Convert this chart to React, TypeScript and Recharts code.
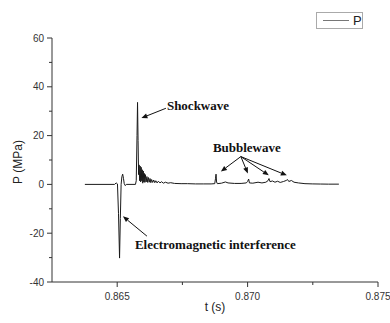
import React from 'react';
import { LineChart, Line, XAxis, YAxis, ReferenceLine, ReferenceDot } from 'recharts';

// time (s)
const tValues = [
  0.86376, 0.8649, 0.86496, 0.86501, 0.86505, 0.86509, 0.86512, 0.86515, 0.86518, 0.86521,
  0.86524, 0.86527, 0.86531, 0.86535, 0.8657, 0.86573, 0.86576, 0.86578, 0.8658, 0.86582,
  0.86584, 0.86586, 0.86588, 0.8659, 0.86592, 0.86594, 0.86596, 0.86598, 0.866, 0.86602,
  0.86604, 0.86606, 0.86608, 0.86611, 0.86614, 0.86617, 0.8662, 0.86623, 0.86626, 0.86629,
  0.86632, 0.86636, 0.8664, 0.86644, 0.86648, 0.86653, 0.86658, 0.86664, 0.8667, 0.86677,
  0.86685, 0.86695, 0.86705, 0.8672, 0.86745, 0.8677, 0.868, 0.8683, 0.8686, 0.86874,
  0.86877, 0.86879, 0.86881, 0.86884, 0.869, 0.86915, 0.86925, 0.8695, 0.86975, 0.86995,
  0.87, 0.87004, 0.87007, 0.8702, 0.8704, 0.87055, 0.8707, 0.87078, 0.87082, 0.87086,
  0.87095, 0.87105, 0.87115, 0.87125, 0.87138, 0.87148, 0.87153, 0.87158, 0.87168, 0.87178,
  0.87195, 0.8722, 0.8725, 0.8728, 0.8731, 0.8735,
];
// pressure (MPa)
const pValues = [
  0, 0, 0.6, 0.2, -12, -30.2, -14, 0, 3.2, 4.2,
  2.5, 0.3, -0.5, 0, 0, 1.5, 20, 33.6, 18, 4,
  8, 1.5, 7.5, 1, 7, 1.5, 6, 0.5, 5.5, 1,
  4.5, 0.8, 4, 1, 3.2, 0.8, 2.8, 0.9, 2.4, 0.7,
  2.0, 0.8, 1.8, 0.7, 1.5, 0.6, 1.3, 0.6, 1.1, 0.5,
  0.9, 0.5, 0.7, 0.4, 0.3, 0.3, 0.2, 0.2, 0.2, 0.3,
  2.5, 4.2, 1, 0.3, 0.5, 1.0, 0.6, 0.4, 0.4, 0.6,
  1.2, 2.2, 0.6, 0.5, 0.9, 0.6, 0.9, 1.5, 2.4, 1.1,
  1.4, 0.9, 1.3, 0.8, 1.2, 1.6, 2, 1.2, 1.6, 0.9,
  0.6, 0.3, 0.2, 0.15, 0.1, 0.1,
];

const xMajorTicks = [0.865, 0.87, 0.875];
const xMinorTicks = [0.8675, 0.8725];
const yMajorTicks = [-40, -20, 0, 20, 40, 60];
const yMinorTicks = [-30, -10, 10, 30, 50];

const annotationTexts = ['Shockwave', 'Bubblewave', 'Electromagnetic interference'];
const annotationT = [0.866906, 0.868669, 0.86568];
const annotationP = [32.3, 15.1, -24.5];

// arrows: tail -> head
const arrowTailT = [0.866868, 0.869741, 0.869741, 0.869741, 0.869741, 0.86614];
const arrowTailP = [31.2, 11.4, 11.4, 11.4, 11.4, -21.2];
const arrowHeadT = [0.865929, 0.868975, 0.87001, 0.870814, 0.871504, 0.86522];
const arrowHeadP = [27.2, 5.3, 4.5, 3.7, 3.7, -13.1];

const data = tValues.map((t, i) => ({ t, p: pValues[i] }));
const xTicks = [...xMajorTicks, ...xMinorTicks].sort((a, b) => a - b);
const yTicks = [...yMajorTicks, ...yMinorTicks].sort((a, b) => a - b);

const AX = '#333';
const SANS = 'Arial, "Liberation Sans", sans-serif';
const SERIF = '"Times New Roman", "Liberation Serif", serif';

const YTick = (props: any) => {
  const { x, y, payload } = props;
  const major = yMajorTicks.includes(payload.value);
  return (
    <g>
      <line x1={x - (major ? 5 : 3)} x2={x} y1={y} y2={y} stroke={AX} strokeWidth={1} />
      {major && (
        <text x={x - 8} y={y} textAnchor="end" dominantBaseline="central" fontSize={10} fill={AX} fontFamily={SANS}>
          {payload.value}
        </text>
      )}
    </g>
  );
};

const XTick = (props: any) => {
  const { x, y, payload } = props;
  const major = xMajorTicks.some((v) => Math.abs(v - payload.value) < 1e-7);
  return (
    <g>
      <line x1={x} x2={x} y1={y} y2={y + (major ? 5 : 3)} stroke={AX} strokeWidth={1} />
      {major && (
        <text x={x} y={y + 14} textAnchor="middle" dominantBaseline="central" fontSize={10} fill={AX} fontFamily={SANS}>
          {payload.value.toFixed(3)}
        </text>
      )}
    </g>
  );
};

const Arrow = (props: any) => {
  const { x1, y1, x2, y2 } = props;
  const ang = Math.atan2(y2 - y1, x2 - x1);
  const L = 6;
  const W = 2.5;
  const bx = x2 - L * Math.cos(ang);
  const by = y2 - L * Math.sin(ang);
  const px = -Math.sin(ang) * W;
  const py = Math.cos(ang) * W;
  return (
    <g>
      <line x1={x1} y1={y1} x2={bx} y2={by} stroke="#111" strokeWidth={1} />
      <polygon points={`${x2},${y2} ${bx + px},${by + py} ${bx - px},${by - py}`} fill="#111" />
    </g>
  );
};

export default function App() {
  return (
    <div style={{ position: 'absolute', left: 0, top: 0, width: 390, height: 323, background: '#fff' }}>
      <LineChart width={390} height={323} data={data} margin={{ top: 38, right: 12, left: 0, bottom: 0 }}>
        <XAxis
          dataKey="t"
          type="number"
          domain={[0.8625, 0.875]}
          ticks={xTicks}
          interval={0}
          tickSize={0}
          tickMargin={0}
          tickLine={false}
          tick={<XTick />}
          height={41}
          axisLine={{ stroke: AX, strokeWidth: 1 }}
          allowDataOverflow
        />
        <YAxis
          type="number"
          domain={[-40, 60]}
          ticks={yTicks}
          interval={0}
          tickSize={0}
          tickMargin={0}
          tickLine={false}
          tick={<YTick />}
          width={52}
          axisLine={{ stroke: AX, strokeWidth: 1 }}
          allowDataOverflow
        />
        <Line
          type="linear"
          dataKey="p"
          stroke="#1a1a1a"
          strokeWidth={1}
          dot={false}
          isAnimationActive={false}
        />
        {arrowTailT.map((t, i) => (
          <ReferenceLine
            key={`a${i}`}
            segment={[
              { x: t, y: arrowTailP[i] },
              { x: arrowHeadT[i], y: arrowHeadP[i] },
            ]}
            shape={(p: any) => <Arrow {...p} />}
            ifOverflow="visible"
          />
        ))}
        {annotationTexts.map((txt, i) => (
          <ReferenceDot
            key={`t${i}`}
            x={annotationT[i]}
            y={annotationP[i]}
            r={1}
            ifOverflow="visible"
            shape={(p: any) => (
              <text
                x={p.cx}
                y={p.cy}
                textAnchor="start"
                dominantBaseline="central"
                fontSize={13}
                fontWeight="bold"
                fill="#111"
                fontFamily={SERIF}
              >
                {txt}
              </text>
            )}
          />
        ))}
      </LineChart>
      <div
        style={{
          position: 'absolute',
          left: 18,
          top: 162,
          transform: 'translate(-50%, -50%) rotate(-90deg)',
          fontFamily: SANS,
          fontSize: 12,
          color: '#222',
          whiteSpace: 'nowrap',
        }}
      >
        P (MPa)
      </div>
      <div
        style={{
          position: 'absolute',
          left: 215,
          top: 307,
          transform: 'translate(-50%, -50%)',
          fontFamily: SANS,
          fontSize: 12,
          color: '#222',
          whiteSpace: 'nowrap',
        }}
      >
        t (s)
      </div>
      <div
        style={{
          position: 'absolute',
          left: 316,
          top: 12,
          width: 47,
          height: 17,
          border: '1px solid #aaa',
          boxSizing: 'border-box',
          display: 'flex',
          alignItems: 'center',
          fontFamily: SANS,
          fontSize: 13,
          color: '#222',
        }}
      >
        <div style={{ marginLeft: 6, width: 26, borderTop: '1px solid #777' }} />
        <span style={{ marginLeft: 4, lineHeight: '13px' }}>P</span>
      </div>
    </div>
  );
}
